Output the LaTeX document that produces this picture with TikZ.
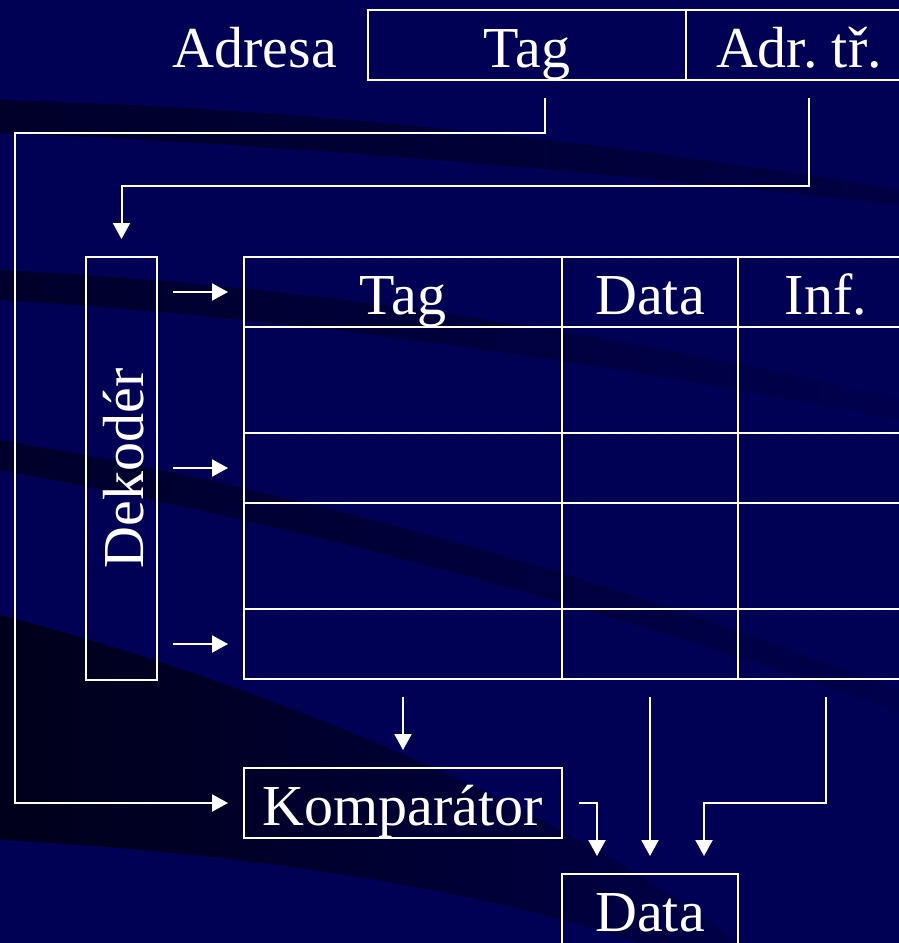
\documentclass[tikz,border=0pt]{standalone}
\usepackage{fontspec}
\setmainfont{Liberation Serif}
\usetikzlibrary{matrix,calc,positioning,arrows.meta}
\definecolor{slide}{RGB}{0,0,84}
\definecolor{streak}{RGB}{0,0,42}
\definecolor{darkband}{RGB}{0,0,26}

\begin{document}
\begin{tikzpicture}[x=1pt,y=-1pt,>={Triangle[width=17pt,length=16pt]},
  line width=2pt,color=white,
  txt/.style={font=\fontsize{58}{60}\selectfont,text height=50pt,text depth=6pt,
    inner sep=0pt,outer sep=0pt,text=white},
  cell/.style={txt,draw=white,anchor=center}]
\useasboundingbox (0,0) rectangle (899,943);
\clip (0,0) rectangle (899,943);
% background of the slide
\fill[slide] (0,0) rectangle (899,943);
\shade[left color=streak,right color=slide!60!streak]
  (0,100) .. controls (300,108) and (600,140) .. (899,190) --
  (899,205) .. controls (600,172) and (300,145) .. (0,133) -- cycle;
\shade[left color=streak,right color=slide!85!streak]
  (0,270) .. controls (300,285) and (600,330) .. (899,398) --
  (899,420) .. controls (600,362) and (300,318) .. (0,300) -- cycle;
\shade[left color=streak,right color=slide!80!streak]
  (0,440) .. controls (300,490) and (600,575) .. (899,690) --
  (899,712) .. controls (600,605) and (300,525) .. (0,470) -- cycle;
\shade[left color=darkband,right color=slide!70!streak]
  (0,615) .. controls (250,680) and (550,800) .. (740,943) --
  (640,943) .. controls (450,880) and (200,850) .. (0,840) -- cycle;
%
\node[cell,minimum width=318pt,minimum height=70pt] (tagA) at (527,45) {Tag};
\node[cell,minimum width=226pt,minimum height=70pt,right=0pt of tagA] (adrA) {Adr.\ tř.};
\node[txt,left=31pt of tagA] (adresa) {Adresa};
%
\matrix[matrix of nodes,nodes in empty cells,inner sep=0pt,outer sep=0pt,
  anchor=north west,column sep=-2pt,row sep=-2pt,nodes={cell,minimum height=70pt},
  column 1/.style={nodes={minimum width=318pt}},
  column 2/.style={nodes={minimum width=176pt}},
  column 3/.style={nodes={minimum width=176pt}},
  row 2/.style={nodes={minimum height=106pt}},
  row 4/.style={nodes={minimum height=106pt}}] (tab) at (243,256)
{
Tag & Data & Inf. \\
    &      &      \\
    &      &      \\
    &      &      \\
    &      &      \\
};
%
\node[draw,inner sep=0pt,outer sep=0pt,minimum width=71pt,minimum height=423pt,
  label={[txt,rotate=90]center:Dekodér}] (dec) at (121.5,468.5) {};
\node[cell,minimum width=318pt,minimum height=70pt,below=89pt of tab-5-1] (komp) {Komparátor};
\node[cell,minimum width=176pt,minimum height=70pt,below=195pt of tab-5-2] (data) {Data};
%
\coordinate (tagout) at ($(tagA.south)+(18,18)$);
\coordinate (adrout) at ($(adrA.south)+(10,18)$);
\coordinate (lbus) at (15,133);
\coordinate (dbus) at ($(dec.north)+(0,-71)$);
\coordinate (din1) at ($(data.north)+(-53,0)$);
\coordinate (din3) at ($(data.north)+(54,0)$);
\draw[->,shorten >=16pt] (tagout) |- (lbus) |- (komp.west);
\draw[->,shorten >=18pt] (adrout) |- (dbus) -- (dec.north);
\draw[shorten <=16pt,shorten >=16pt]
          (dec.east |- tab-1-1) edge[->] (tab-1-1.west)
          (dec.east |- tab-3-1) edge[->] (tab-3-1.west)
          (dec.east |- tab-5-1) edge[->] (tab-5-1.west)
;
\draw[shorten <=18pt,shorten >=18pt]
          (tab-5-1) edge[->] (komp)
          (tab-5-2) edge[->] (data)
;
\draw[->,shorten >=18pt] ($(komp.east)+(17,0)$) -| (din1);
\draw[->,shorten >=18pt] ($(tab-5-3.south)+(0,18)$) |- (din3 |- komp) -- (din3);
\end{tikzpicture}
\end{document}
